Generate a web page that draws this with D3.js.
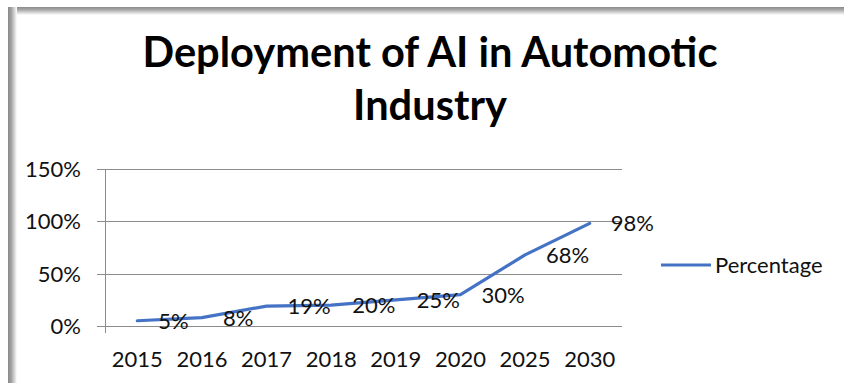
<!DOCTYPE html>
<html><head><meta charset="utf-8">
<script src="https://cdn.jsdelivr.net/npm/d3@7"></script>
<style>html,body{margin:0;padding:0;background:#fff;overflow:hidden}</style>
</head><body>
<svg id="c" width="844" height="383"></svg>
<script>
const categories = ["2015","2016","2017","2018","2019","2020","2025","2030"];
const values = [0.05, 0.08, 0.19, 0.20, 0.25, 0.30, 0.68, 0.98];
const yTicks = [0, 0.5, 1.0, 1.5];
const seriesName = "Percentage";
const titleLines = ["Deployment of AI in Automotic", "Industry"];

const svg = d3.select("#c");
const font = "Lato, 'Open Sans', sans-serif";
const defs = svg.append("defs");
const gl = defs.append("linearGradient").attr("id","gl").attr("x1",0).attr("x2",1).attr("y1",0).attr("y2",0);
gl.append("stop").attr("offset","0%").attr("stop-color","#8a8a8a");
gl.append("stop").attr("offset","35%").attr("stop-color","#a0a0a0");
gl.append("stop").attr("offset","100%").attr("stop-color","#ffffff");
const gt = defs.append("linearGradient").attr("id","gt").attr("x1",0).attr("x2",0).attr("y1",0).attr("y2",1);
gt.append("stop").attr("offset","0%").attr("stop-color","#8a8a8a");
gt.append("stop").attr("offset","35%").attr("stop-color","#a8a8a8");
gt.append("stop").attr("offset","100%").attr("stop-color","#ffffff");

svg.append("rect").attr("x",8).attr("y",7).attr("width",836).attr("height",8).attr("fill","url(#gt)");
svg.append("rect").attr("x",8).attr("y",7).attr("width",9).attr("height",376).attr("fill","url(#gl)");

const x = d3.scaleBand().domain(categories).range([105, 622]);
const y = d3.scaleLinear().domain([0, 1.5]).range([326, 169]);
const fmt = d3.format(".0%");

svg.append("g").selectAll("line").data(yTicks).join("line")
  .attr("x1", 97).attr("x2", 622)
  .attr("y1", d => Math.round(y(d)) + 0.5).attr("y2", d => Math.round(y(d)) + 0.5)
  .attr("stroke", "#8c8c8c").attr("stroke-width", 1);
svg.append("line").attr("x1",105.5).attr("x2",105.5).attr("y1",y(1.5)).attr("y2",y(0)+7)
  .attr("stroke","#8c8c8c").attr("stroke-width",1);

const fsz = 22;
svg.append("g").selectAll("text").data(yTicks).join("text")
  .attr("x", 81).attr("y", d => y(d)).attr("dy","0.36em")
  .attr("text-anchor","end").attr("font-family",font).attr("font-size",fsz).attr("fill","#111")
  .text(d => fmt(d));

svg.append("g").selectAll("text").data(categories).join("text")
  .attr("x", d => x(d) + x.bandwidth()/2).attr("y", 367)
  .attr("text-anchor","middle").attr("font-family",font).attr("font-size",fsz).attr("fill","#111")
  .text(d => d);

const line = d3.line().x((d,i) => x(categories[i]) + x.bandwidth()/2).y(d => y(d));
svg.append("path").datum(values).attr("d", line).attr("fill","none")
  .attr("stroke","#4472C4").attr("stroke-width",3.2).attr("stroke-linejoin","round").attr("stroke-linecap","round");

svg.append("g").selectAll("text").data(values).join("text")
  .attr("x", (d,i) => x(categories[i]) + x.bandwidth()/2 + 21)
  .attr("y", d => y(d)).attr("dy","0.36em")
  .attr("font-family",font).attr("font-size",fsz).attr("fill","#111")
  .text(d => fmt(d));

svg.append("line").attr("x1",661).attr("x2",711).attr("y1",265).attr("y2",265)
  .attr("stroke","#4472C4").attr("stroke-width",3.2);
svg.append("text").attr("x",715).attr("y",265).attr("dy","0.36em")
  .attr("font-family",font).attr("font-size",fsz).attr("fill","#111").text(seriesName);

const t = svg.append("g");
titleLines.forEach((s, i) => {
  t.append("text").attr("x", 430).attr("y", i === 0 ? 67 : 120)
    .attr("text-anchor","middle").attr("font-family",font).attr("font-weight","bold")
    .attr("font-size",35).attr("fill","#000").text(s);
});
const w = t.select("text").node().getComputedTextLength();
t.selectAll("text").attr("font-size", 35 * 575 / w);
</script>
</body></html>
